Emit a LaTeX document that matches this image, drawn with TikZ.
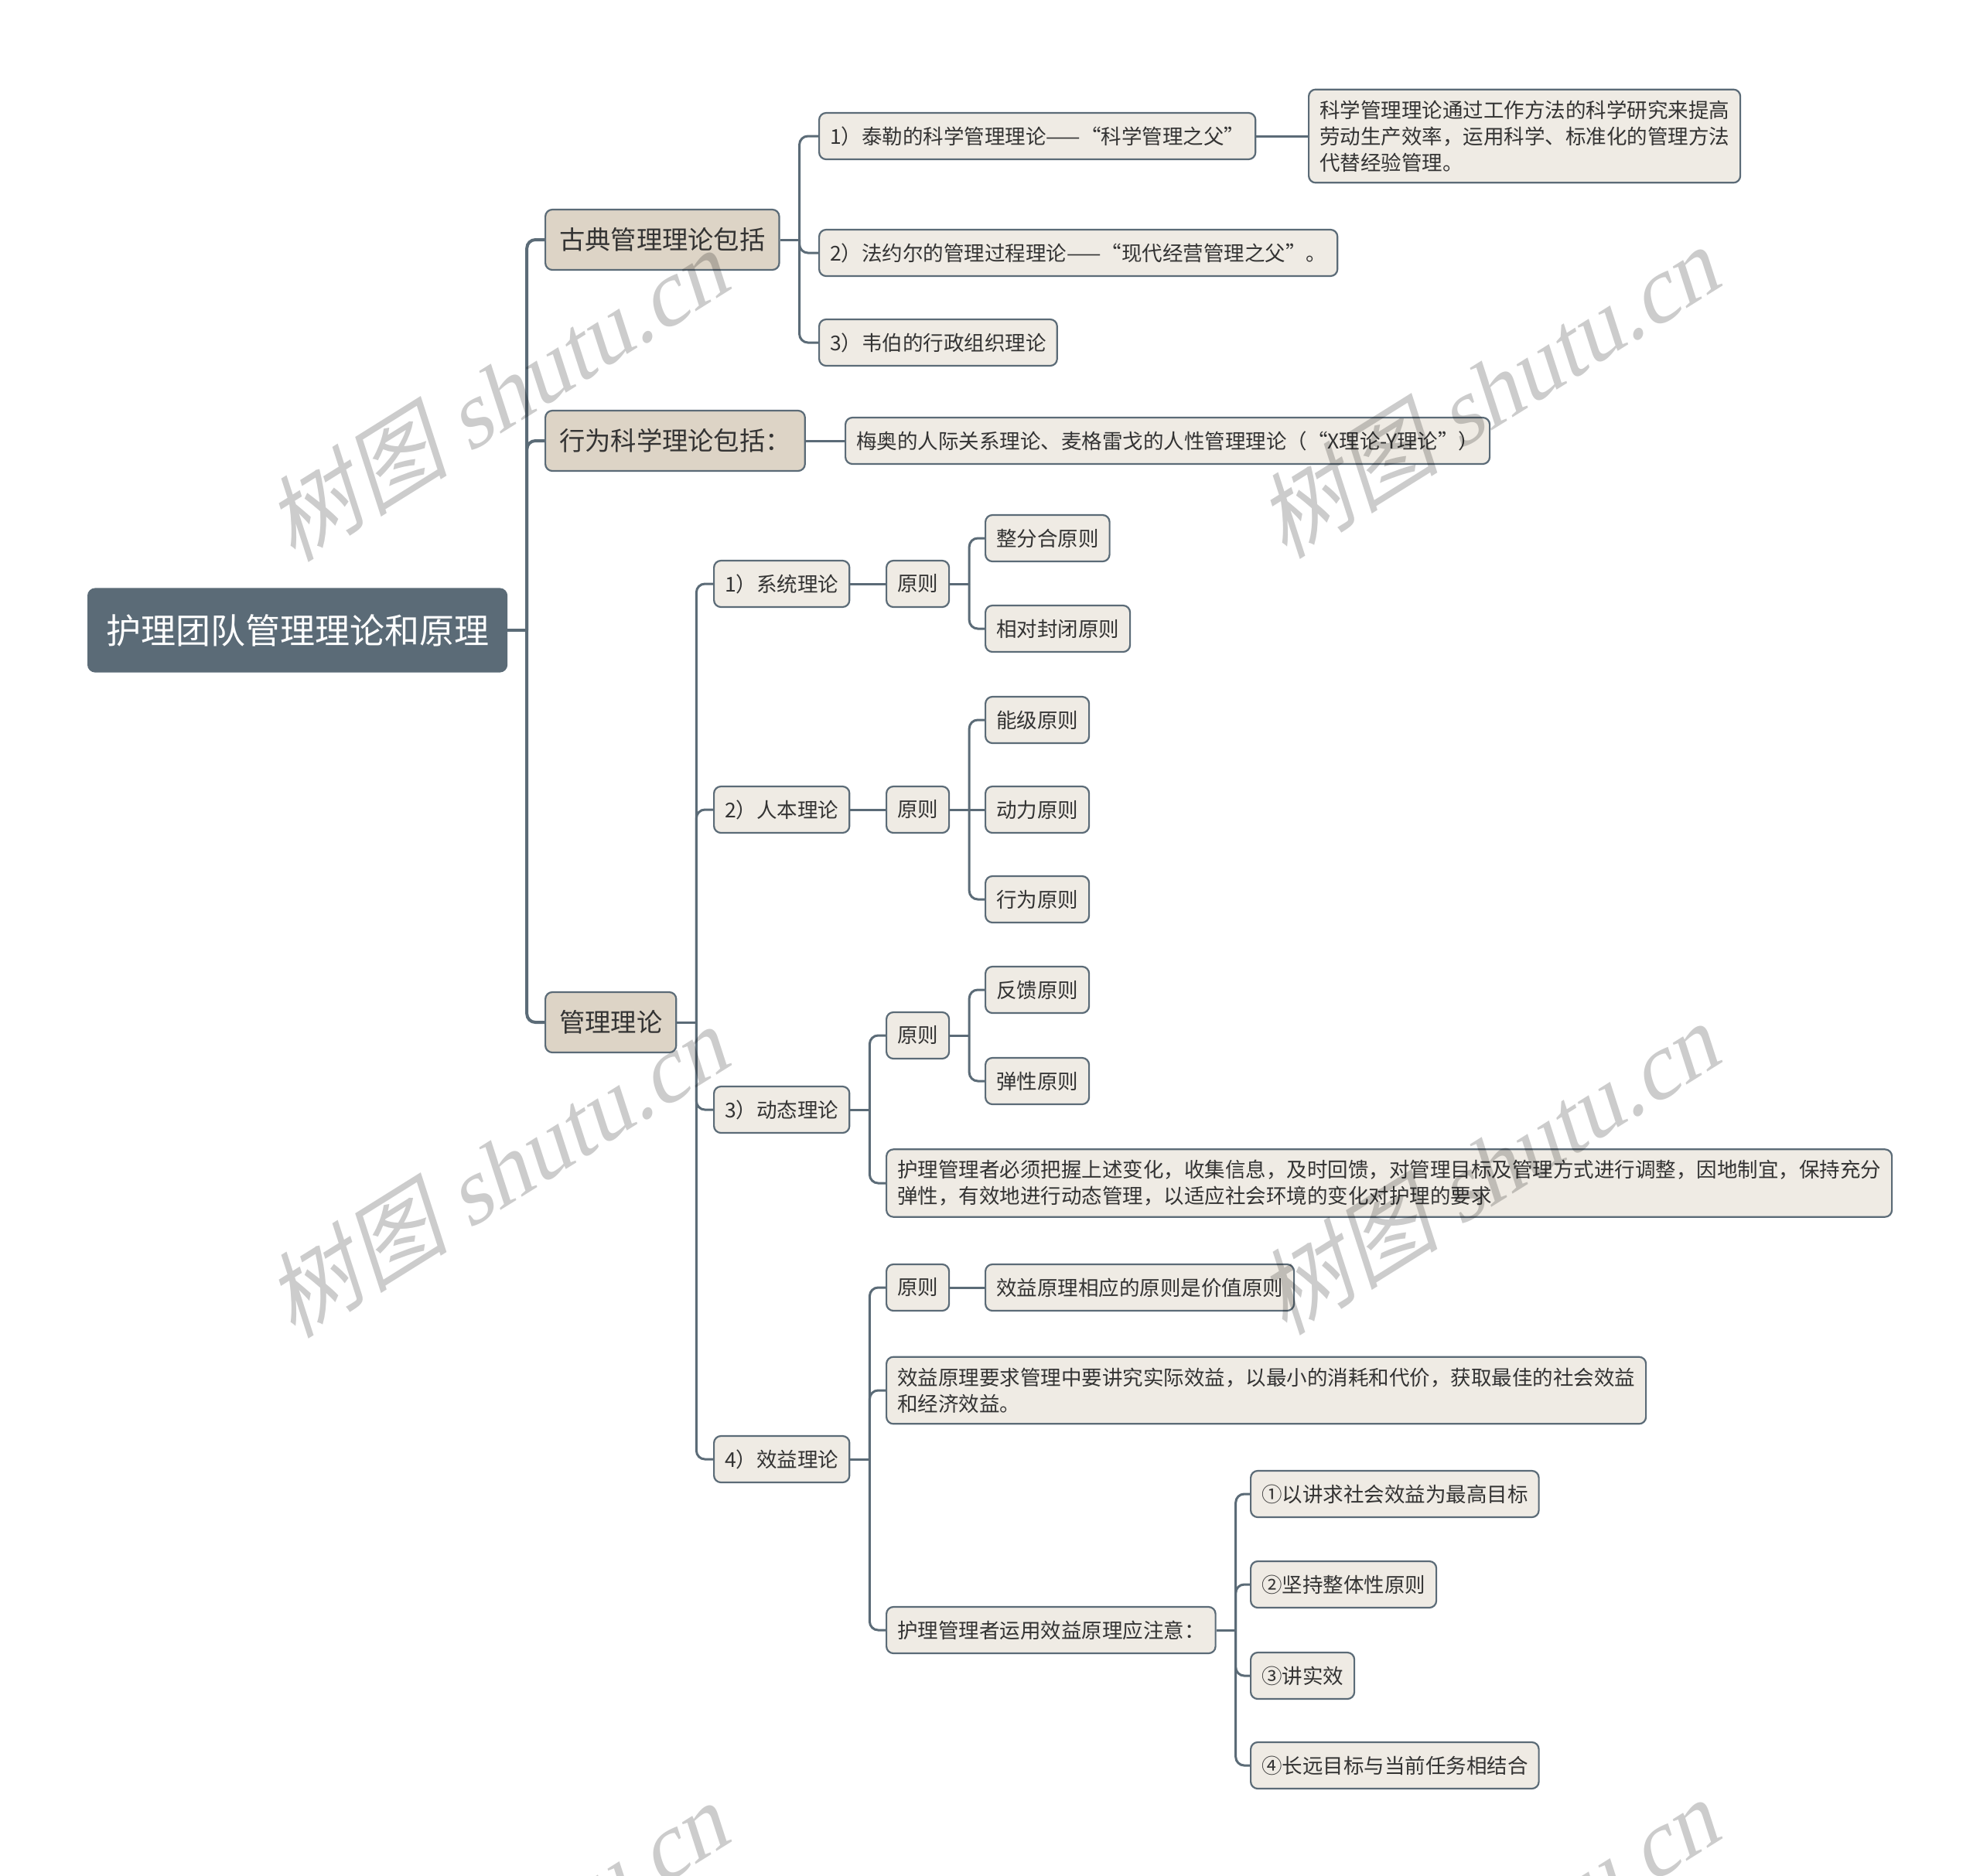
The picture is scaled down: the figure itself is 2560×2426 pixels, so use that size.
\documentclass[tikz,border=0pt]{standalone}
\usepackage{fontspec}
\setmainfont{Noto Sans CJK SC}
\newfontfamily\wmlat{Liberation Serif}[FakeSlant=0.25]
\newfontfamily\wmcjk{Noto Sans CJK SC}[FakeSlant=0.25]
\definecolor{rootc}{HTML}{5B6B77}
\definecolor{edgec}{HTML}{5B6B77}
\definecolor{lonec}{HTML}{DDD4C6}
\definecolor{ltwoc}{HTML}{EFEBE4}
\definecolor{txtc}{HTML}{333333}
\tikzset{
 base/.style={anchor=west, draw=edgec, line width=2.2pt, rounded corners=9pt, inner xsep=14pt, inner ysep=14pt, text=txtc},
 rootbox/.style={base, draw=rootc, fill=rootc, text=white, font=\fontsize{45}{54}\selectfont, minimum height=107pt, inner xsep=23pt},
 lonebox/.style={base, fill=lonec, font=\fontsize{33.3}{40}\selectfont, minimum height=78pt, inner xsep=18pt},
 ltwobox/.style={base, fill=ltwoc, font=\fontsize{26.5}{34}\selectfont, minimum height=60pt, align=left},
 conn/.style={draw=edgec, line width=3pt, rounded corners=11pt},
 trunk/.style={conn, line width=4pt},
 wm/.style={text=black, text opacity=0.2, rotate=32, font=\fontsize{120}{130}\selectfont}
}
\begin{document}
\begin{tikzpicture}[x=1pt,y=-1pt]
\useasboundingbox (0,0) rectangle (2560,2426);
% root
\node[rootbox] (root) at (113,815) {护理团队管理理论和原理};
% level 1
\node[lonebox] (gd) at (704,310) {古典管理理论包括};
\node[lonebox] (xw) at (704,570) {行为科学理论包括：};
\node[lonebox] (gl) at (704,1322) {管理理论};
% classical
\node[ltwobox] (t1) at (1058,176) {1）泰勒的科学管理理论——“科学管理之父”};
\node[ltwobox] (t2) at (1058,327) {2）法约尔的管理过程理论——“现代经营管理之父”。};
\node[ltwobox] (t3) at (1058,443) {3）韦伯的行政组织理论};
\node[ltwobox] (t1d) at (1691,176) {科学管理理论通过工作方法的科学研究来提高\\劳动生产效率，运用科学、标准化的管理方法\\代替经验管理。};
% behavioural
\node[ltwobox] (xwd) at (1092,570) {梅奥的人际关系理论、麦格雷戈的人性管理理论（“X理论-Y理论”）};
% management theory
\node[ltwobox] (s1) at (922,755) {1）系统理论};
\node[ltwobox] (s2) at (922,1047) {2）人本理论};
\node[ltwobox] (s3) at (922,1435) {3）动态理论};
\node[ltwobox] (s4) at (922,1887) {4）效益理论};
% s1
\node[ltwobox] (y1) at (1145,755) {原则};
\node[ltwobox] (y1a) at (1273,696) {整分合原则};
\node[ltwobox] (y1b) at (1273,813) {相对封闭原则};
% s2
\node[ltwobox] (y2) at (1145,1047) {原则};
\node[ltwobox] (y2a) at (1273,931) {能级原则};
\node[ltwobox] (y2b) at (1273,1047) {动力原则};
\node[ltwobox] (y2c) at (1273,1163) {行为原则};
% s3
\node[ltwobox] (y3) at (1145,1339) {原则};
\node[ltwobox] (y3a) at (1273,1280) {反馈原则};
\node[ltwobox] (y3b) at (1273,1398) {弹性原则};
\node[ltwobox] (s3d) at (1145,1530) {护理管理者必须把握上述变化，收集信息，及时回馈，对管理目标及管理方式进行调整，因地制宜，保持充分\\弹性，有效地进行动态管理，以适应社会环境的变化对护理的要求};
% s4
\node[ltwobox] (y4) at (1145,1665) {原则};
\node[ltwobox] (y4a) at (1273,1665) {效益原理相应的原则是价值原则};
\node[ltwobox] (s4d) at (1145,1798) {效益原理要求管理中要讲究实际效益，以最小的消耗和代价，获取最佳的社会效益\\和经济效益。};
\node[ltwobox] (s4e) at (1145,2108) {护理管理者运用效益原理应注意：};
\node[ltwobox] (e1) at (1616,1932) {①以讲求社会效益为最高目标};
\node[ltwobox] (e2) at (1616,2049) {②坚持整体性原则};
\node[ltwobox] (e3) at (1616,2167) {③讲实效};
\node[ltwobox] (e4) at (1616,2283) {④长远目标与当前任务相结合};
% connectors: root
\draw[trunk] (root.east) -- ++(25,0) coordinate (rb);
\draw[trunk] (rb) |- (gd.west);
\draw[trunk] (rb) |- (xw.west);
\draw[trunk] (rb) |- (gl.west);
% classical
\draw[conn] (gd.east) -- ++(25,0) coordinate (gdb);
\draw[conn] (gdb) |- (t1.west);
\draw[conn] (gdb) |- (t2.west);
\draw[conn] (gdb) |- (t3.west);
\draw[conn] (t1.east) -- (t1d.west);
\draw[conn] (xw.east) -- (xwd.west);
% management
\draw[conn] (gl.east) -- ++(25,0) coordinate (glb);
\draw[conn] (glb) |- (s1.west);
\draw[conn] (glb) |- (s2.west);
\draw[conn] (glb) |- (s3.west);
\draw[conn] (glb) |- (s4.west);
\draw[conn] (s1.east) -- (y1.west);
\draw[conn] (y1.east) -- ++(25,0) coordinate (y1bb);
\draw[conn] (y1bb) |- (y1a.west);
\draw[conn] (y1bb) |- (y1b.west);
\draw[conn] (s2.east) -- (y2.west);
\draw[conn] (y2.east) -- ++(25,0) coordinate (y2bb);
\draw[conn] (y2bb) |- (y2a.west);
\draw[conn] (y2bb) -- (y2b.west);
\draw[conn] (y2bb) |- (y2c.west);
\draw[conn] (s3.east) -- ++(25,0) coordinate (s3b);
\draw[conn] (s3b) |- (y3.west);
\draw[conn] (s3b) |- (s3d.west);
\draw[conn] (y3.east) -- ++(25,0) coordinate (y3bb);
\draw[conn] (y3bb) |- (y3a.west);
\draw[conn] (y3bb) |- (y3b.west);
\draw[conn] (s4.east) -- ++(25,0) coordinate (s4b);
\draw[conn] (s4b) |- (y4.west);
\draw[conn] (s4b) |- (s4d.west);
\draw[conn] (s4b) |- (s4e.west);
\draw[conn] (y4.east) -- (y4a.west);
\draw[conn] (s4e.east) -- ++(25,0) coordinate (s4eb);
\draw[conn] (s4eb) |- (e1.west);
\draw[conn] (s4eb) |- (e2.west);
\draw[conn] (s4eb) |- (e3.west);
\draw[conn] (s4eb) |- (e4.west);
% watermarks
\begin{scope}
\clip (0,0) rectangle (2560,2426);
\node[wm] (wm1) at (640,512) {{\wmcjk 树图} {\wmlat shutu.cn}};
\node[wm] (wm2) at (1921,508) {{\wmcjk 树图} {\wmlat shutu.cn}};
\node[wm] (wm3) at (640,1516) {{\wmcjk 树图} {\wmlat shutu.cn}};
\node[wm] (wm4) at (1921,1512) {{\wmcjk 树图} {\wmlat shutu.cn}};
\node[wm] (wm5) at (640,2520) {{\wmcjk 树图} {\wmlat shutu.cn}};
\node[wm] (wm6) at (1921,2516) {{\wmcjk 树图} {\wmlat shutu.cn}};
\end{scope}
\end{tikzpicture}
\end{document}
